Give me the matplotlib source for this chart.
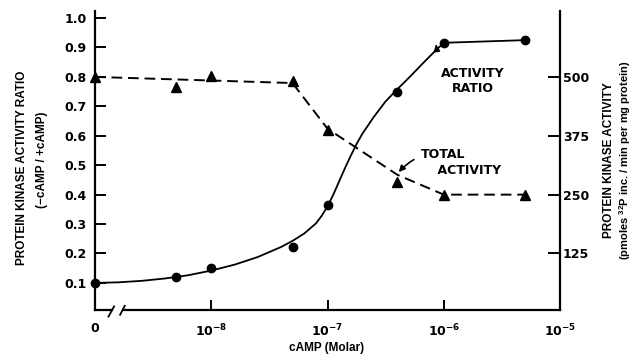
"""
cAMP dose response of protein kinase: activity ratio (-cAMP/+cAMP, left axis)
and total activity (pmoles 32P inc./min per mg protein, right axis).
The "0" concentration is drawn at the 1e-9 position behind an axis break.
"""

import matplotlib
matplotlib.use("Agg")
import matplotlib.pyplot as plt
import numpy as np

ZERO_POS = 1e-9  # where the "0" concentration sits on the log axis

# activity ratio, measured points (filled circles)
ratio_conc = [0, 5e-9, 1e-8, 5e-8, 1e-7, 4e-7, 1e-6, 5e-6]
ratio_vals = [0.10, 0.12, 0.152, 0.222, 0.366, 0.750, 0.916, 0.925]

# activity ratio, drawn curve (log10 of molar conc.)
curve_logc = [-9.0, -8.8, -8.6, -8.4, -8.2, -8.0, -7.8, -7.6, -7.4, -7.3,
              -7.2, -7.1, -7.05, -7.0, -6.95, -6.9, -6.85, -6.8, -6.75, -6.7,
              -6.6, -6.5, -6.4, -6.3, -6.2, -6.1, -6.0, -5.3]
curve_vals = [0.100, 0.102, 0.107, 0.115, 0.126, 0.142, 0.162, 0.188, 0.222, 0.243,
              0.268, 0.302, 0.328, 0.360, 0.400, 0.445, 0.490, 0.532, 0.572, 0.607,
              0.665, 0.717, 0.758, 0.797, 0.838, 0.878, 0.916, 0.925]

# total activity, measured points (filled triangles)
total_conc = [0, 5e-9, 1e-8, 5e-8, 1e-7, 4e-7, 1e-6, 5e-6]
total_vals = [500, 479, 502, 491, 388, 277, 250, 250]

# total activity, dashed line
dash_conc = [0, 5e-8, 1e-7, 4e-7, 1e-6, 5e-6]
dash_vals = [500, 487, 390, 292, 250, 250]

ratio_ticks = [0.1, 0.2, 0.3, 0.4, 0.5, 0.6, 0.7, 0.8, 0.9, 1.0]
total_ticks = [125, 250, 375, 500]
x_ticks = [ZERO_POS, 1e-8, 1e-7, 1e-6, 1e-5]
x_labels = ["0", r"$\mathregular{10^{-8}}$", r"$\mathregular{10^{-7}}$",
            r"$\mathregular{10^{-6}}$", r"$\mathregular{10^{-5}}$"]

UNITS_PER_RATIO = 625  # 500 on the right axis sits level with 0.8 on the left

TICK_FONT = dict(family="DejaVu Sans", weight="bold", size=9)
LABEL_FONT = dict(family=["Liberation Sans Narrow", "Liberation Sans", "DejaVu Sans"],
                  weight="bold", size=8.5)
NOTE_FONT = dict(family="DejaVu Sans", weight="bold", size=9)


def xpos(conc):
    return np.array([ZERO_POS if c == 0 else c for c in conc])


def main():
    fig = plt.figure(figsize=(6.35, 3.55), dpi=100)
    ax = fig.add_axes([95 / 635, 1 - 310 / 355, 465 / 635, 299 / 355])
    ax2 = ax.twinx()

    ax.set_xscale("log")
    ax.set_xlim(ZERO_POS, 1e-5)
    ylo, yhi = 0.008, 1.024
    ax.set_ylim(ylo, yhi)
    ax2.set_ylim(ylo * UNITS_PER_RATIO, yhi * UNITS_PER_RATIO)

    # activity ratio
    ax.plot(10.0 ** np.array(curve_logc), curve_vals, color="black", lw=1.3,
            zorder=3, solid_joinstyle="round")
    ax.plot(xpos(ratio_conc), ratio_vals, "o", color="black", ms=6, zorder=4,
            clip_on=False)

    # total activity
    ax2.plot(xpos(dash_conc), dash_vals, color="black", lw=1.4,
             dashes=(5.5, 3), zorder=3)
    ax2.plot(xpos(total_conc), total_vals, "^", color="black", ms=7, zorder=4,
             clip_on=False)

    # spines
    for a in (ax, ax2):
        a.spines["top"].set_visible(False)
        a.spines["bottom"].set_visible(False)
        a.spines["left"].set_linewidth(1.6)
        a.spines["right"].set_linewidth(1.6)
    ax.spines["right"].set_visible(False)
    ax2.spines["left"].set_visible(False)

    # bottom axis with a break next to the zero
    tr = ax.transAxes
    ax.plot([0, 0.036], [0, 0], color="black", lw=1.6, transform=tr, clip_on=False)
    ax.plot([0.062, 1], [0, 0], color="black", lw=1.6, transform=tr, clip_on=False)
    ax.plot([0.029, 0.041], [-0.022, 0.012], color="black", lw=1.3, transform=tr,
            clip_on=False)
    ax.plot([0.054, 0.064], [-0.016, 0.014], color="black", lw=1.3, transform=tr,
            clip_on=False)

    # ticks
    ax.set_yticks(ratio_ticks)
    ax.set_yticklabels([f"{v:.1f}" for v in ratio_ticks], **TICK_FONT)
    ax.tick_params(axis="y", direction="in", length=8, width=1.4, pad=6)
    ax2.set_yticks(total_ticks)
    ax2.set_yticklabels([str(v) for v in total_ticks], **TICK_FONT)
    ax2.tick_params(axis="y", direction="in", length=9, width=1.4, pad=2)

    ax.set_xticks(x_ticks)
    ax.set_xticklabels(x_labels, **TICK_FONT)
    ax.xaxis.set_minor_locator(matplotlib.ticker.NullLocator())
    ax.tick_params(axis="x", direction="in", length=7, width=1.4, pad=9)
    for t in ax.xaxis.get_major_ticks():
        if t.get_loc() in (ZERO_POS, 1e-5):
            t.tick1line.set_visible(False)

    # axis titles
    fig.text(22 / 635, 1 - 168 / 355, "PROTEIN KINASE ACTIVITY RATIO",
             rotation=90, ha="center", va="center", **LABEL_FONT)
    fig.text(42 / 635, 1 - 160 / 355, "(\u2212cAMP / +cAMP)",
             rotation=90, ha="center", va="center", **LABEL_FONT)
    fig.text(609 / 635, 1 - 160 / 355, "PROTEIN KINASE ACTIVITY",
             rotation=90, ha="center", va="center", **LABEL_FONT)
    fig.text(625 / 635, 1 - 160 / 355,
             r"(pmoles $\mathregular{^{32}}$P inc. / min per mg protein)",
             rotation=90, ha="center", va="center",
             **{**LABEL_FONT, "size": 8})
    fig.text(327 / 635, 1 - 348 / 355, "cAMP (Molar)",
             ha="center", va="center", **LABEL_FONT)

    # curve labels with arrows
    ax.annotate("ACTIVITY\nRATIO", xy=(8.6e-7, 0.91), xytext=(1.77e-6, 0.786),
                ha="center", va="center", linespacing=1.2, **NOTE_FONT,
                arrowprops=dict(arrowstyle="-|>", color="black", lw=1.2,
                                shrinkA=14, shrinkB=0,
                                connectionstyle="arc3,rad=-0.4"))
    ax2.annotate("TOTAL\n    ACTIVITY", xy=(4.1e-7, 298), xytext=(6.3e-7, 319),
                 ha="left", va="center", linespacing=1.3, **NOTE_FONT,
                 arrowprops=dict(arrowstyle="-|>", color="black", lw=1.2,
                                 shrinkA=3, shrinkB=0,
                                 connectionstyle="arc3,rad=0.4"))

    fig.savefig("out.png", dpi=100)
    plt.close(fig)


if __name__ == "__main__":
    main()
